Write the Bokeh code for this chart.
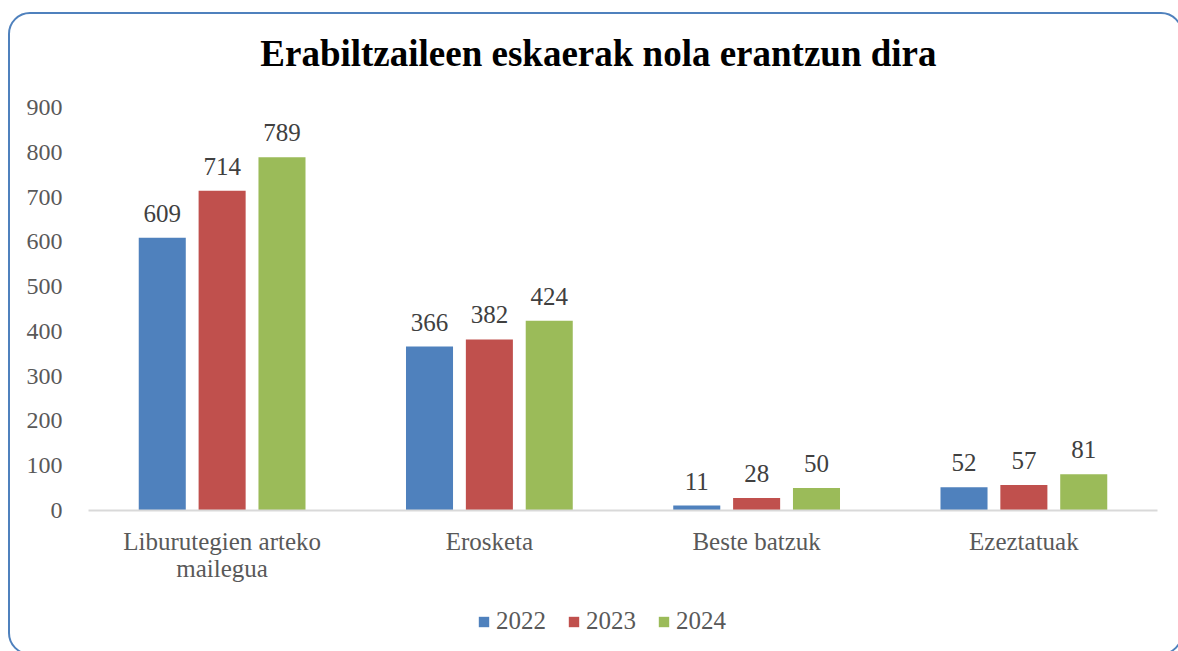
from bokeh.plotting import figure
from bokeh.models import ColumnDataSource, Legend, LegendItem, CategoricalAxis, FactorRange
from bokeh.layouts import column
from bokeh.transform import dodge
from bokeh.core.properties import value
from bokeh.embed import file_html
from bokeh.resources import INLINE

label_line1 = ["Liburutegien arteko", "Erosketa", "Beste batzuk", "Ezeztatuak"]
label_line2 = ["mailegua", " ", "  ", "   "]
years = ["2022", "2023", "2024"]
v2022 = [609, 366, 11, 52]
v2023 = [714, 382, 28, 57]
v2024 = [789, 424, 50, 81]
colors = ["#4f81bd", "#c0504d", "#9bbb59"]
title_text = "Erabiltzaileen eskaerak nola erantzun dira"

FONT = "Liberation Serif"
W = 1171

# ---- title strip (frame is aligned with the chart frame by the column layout)
tf = figure(width=W, height=70, output_backend="svg", toolbar_location=None,
            min_border=0, x_range=(0, 1), y_range=(0, 1))
tf.axis.visible = False
tf.grid.grid_line_color = None
tf.outline_line_color = None
tf.border_fill_color = None
tf.text(x=[0.477], y=[0.443], text=[title_text], text_align="center", text_baseline="middle",
        text_font=value(FONT), text_font_size="37px", text_font_style="bold", text_color="#000000")

# ---- main chart
src = ColumnDataSource(dict(cat=label_line1, y2022=v2022, y2023=v2023, y2024=v2024,
                            t2022=[str(v) for v in v2022],
                            t2023=[str(v) for v in v2023],
                            t2024=[str(v) for v in v2024]))

p = figure(x_range=FactorRange(factors=label_line1), y_range=(0, 900), width=W, height=518,
           output_backend="svg", toolbar_location=None,
           min_border_left=78, min_border_right=24, min_border_top=23, min_border_bottom=92)
p.extra_x_ranges = {"line2": FactorRange(factors=label_line2)}
p.outline_line_color = None
p.grid.grid_line_color = None
p.border_fill_color = None

offsets = [-0.224, 0.0, 0.224]
for yr, off, col in zip(years, offsets, colors):
    p.vbar(x=dodge("cat", off, range=p.x_range), top="y" + yr, width=0.176,
           source=src, fill_color=col, line_color=None)
    p.text(x=dodge("cat", off, range=p.x_range), y="y" + yr, text="t" + yr, source=src,
           text_align="center", text_baseline="bottom", y_offset=-16,
           text_font=value(FONT), text_font_size="25px", text_color="#404040")

p.yaxis.ticker = list(range(0, 1000, 100))
p.yaxis.axis_line_color = None
p.yaxis.major_tick_line_color = None
p.yaxis.minor_tick_line_color = None
p.yaxis.major_label_text_font = FONT
p.yaxis.major_label_text_font_size = "24px"
p.yaxis.major_label_text_color = "#595959"
p.yaxis.major_label_standoff = 20

xa = p.xaxis[0]
xa.axis_line_color = "#d9d9d9"
xa.axis_line_width = 2
xa.major_tick_line_color = None
xa.minor_tick_line_color = None
xa.major_label_text_font = FONT
xa.major_label_text_font_size = "25px"
xa.major_label_text_color = "#595959"
xa.major_label_standoff = 11

xa2 = CategoricalAxis(x_range_name="line2", axis_line_color=None, major_tick_line_color=None,
                      minor_tick_line_color=None, major_label_text_font=FONT,
                      major_label_text_font_size="25px", major_label_text_color="#595959",
                      major_label_standoff=-9)
p.add_layout(xa2, "below")

# ---- legend strip (zero-size proxy glyphs, only used for the legend swatches)
lf = figure(width=W, height=51, output_backend="svg", toolbar_location=None,
            min_border=0, x_range=(0, 1), y_range=(0, 1))
lf.axis.visible = False
lf.grid.grid_line_color = None
lf.outline_line_color = None
lf.border_fill_color = None
lrs = [lf.vbar(x=[0.5], top=[0], bottom=[0], width=0, fill_color=c, line_color=None)
       for c in colors]
legend = Legend(items=[LegendItem(label=yr, renderers=[r]) for yr, r in zip(years, lrs)],
                orientation="horizontal", location=(389, 18),
                label_text_font=FONT, label_text_font_size="25px", label_text_color="#595959",
                glyph_width=13, glyph_height=13, label_standoff=6, spacing=21,
                padding=0, margin=0, border_line_color=None, background_fill_alpha=0)
lf.add_layout(legend, "center")

layout = column(tf, p, lf, spacing=0)
layout.styles = {"position": "fixed", "left": "8px", "top": "12px",
                 "border": "2px solid #4f81bd", "border-radius": "22px", "background": "white"}

open("out.html", "w").write(file_html(layout, INLINE))
